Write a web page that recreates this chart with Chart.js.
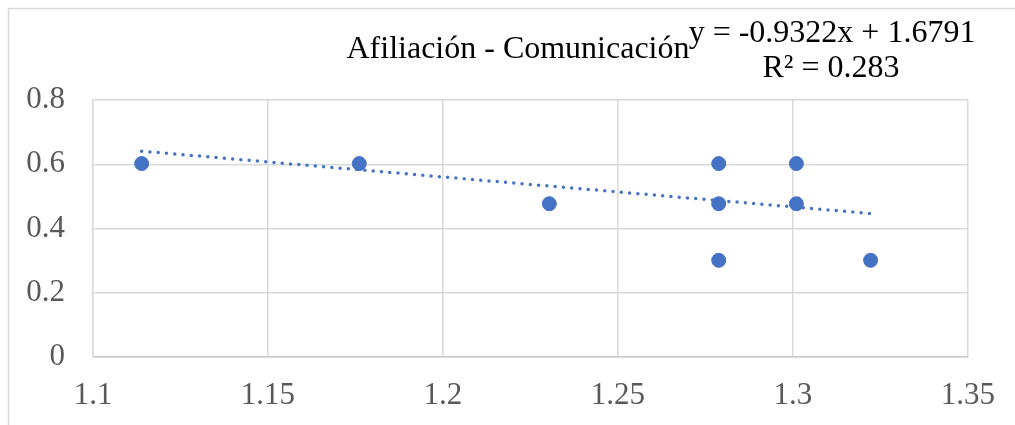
<!DOCTYPE html>
<html lang="es">
<head>
<meta charset="utf-8">
<title>Afiliación - Comunicación</title>
<script src="https://cdn.jsdelivr.net/npm/chart.js@4/dist/chart.umd.min.js"></script>
<style>
  html, body { margin: 0; padding: 0; background: #ffffff; }
  #wrap { width: 1015px; height: 425px; }
</style>
</head>
<body>
<div id="wrap"><canvas id="chart" width="1015" height="425"></canvas></div>
<script>
// Observed pairs (log scale values)
const xValues = [1.1139, 1.1761, 1.2304, 1.2788, 1.2788, 1.2788, 1.3010, 1.3010, 1.3222];
const yValues = [0.6021, 0.6021, 0.4771, 0.6021, 0.4771, 0.3010, 0.6021, 0.4771, 0.3010];

// Linear trend as stated on the chart
const trendSlope = -0.9322;
const trendIntercept = 1.6791;
const trendR2 = 0.283;

const xTickLabels = ['1.1', '1.15', '1.2', '1.25', '1.3', '1.35'];
const yTickLabels = ['0', '0.2', '0.4', '0.6', '0.8'];

const chartTitle = 'Afiliación - Comunicación';
const equationText = 'y = ' + trendSlope + 'x + ' + trendIntercept;
const r2Text = 'R² = ' + trendR2;

const points = xValues.map((x, i) => ({ x: x, y: yValues[i] }));
const xMin = Math.min(...xValues);
const xMax = Math.max(...xValues);
const trendPoints = [xMin, xMax].map(x => ({ x: x, y: trendSlope * x + trendIntercept }));

const SERIF = '"Liberation Serif", "Times New Roman", serif';
const BLUE = '#4472C4';
const GRID = '#d9d9d9';

// Frame, title and regression label
const decorations = {
  id: 'decorations',
  beforeDraw(chart) {
    const ctx = chart.ctx;
    ctx.save();
    ctx.fillStyle = '#ffffff';
    ctx.fillRect(0, 0, chart.width, chart.height);
    ctx.strokeStyle = GRID;
    ctx.lineWidth = 1.5;
    ctx.strokeRect(8.5, 8.5, chart.width + 20, chart.height + 20);
    ctx.restore();
  },
  afterDraw(chart) {
    const ctx = chart.ctx;
    ctx.save();
    ctx.fillStyle = '#000000';
    ctx.textAlign = 'center';
    ctx.textBaseline = 'alphabetic';
    ctx.font = '32px ' + SERIF;
    ctx.fillText(chartTitle, 518, 58);
    ctx.fillText(equationText, 832, 42);
    ctx.fillText(r2Text, 831, 77);
    ctx.restore();
  }
};

new Chart(document.getElementById('chart'), {
  type: 'scatter',
  data: {
    datasets: [
      {
        label: 'Tendencia',
        data: trendPoints,
        showLine: true,
        borderColor: BLUE,
        borderWidth: 3.5,
        borderDash: [0, 8.3],
        borderCapStyle: 'round',
        pointRadius: 0,
        pointHoverRadius: 0,
        fill: false,
        order: 0
      },
      {
        label: chartTitle,
        data: points,
        backgroundColor: BLUE,
        borderColor: BLUE,
        borderWidth: 1,
        pointRadius: 7,
        pointHoverRadius: 7,
        order: 1
      }
    ]
  },
  options: {
    responsive: false,
    animation: false,
    devicePixelRatio: 1,
    layout: { padding: { left: 8, top: 100, right: 47, bottom: 0 } },
    plugins: {
      legend: { display: false },
      title: { display: false },
      tooltip: { enabled: false }
    },
    scales: {
      x: {
        type: 'linear',
        min: 1.1,
        max: 1.35,
        afterFit(scale) { scale.height = 68; },
        afterBuildTicks(scale) {
          scale.ticks = xTickLabels.map(t => ({ value: parseFloat(t) }));
        },
        ticks: {
          padding: 20,
          color: '#595959',
          font: { family: SERIF, size: 31 },
          callback: (v, i) => xTickLabels[i]
        },
        grid: { color: GRID, lineWidth: 1.5, drawTicks: false },
        border: { color: '#c8c8c8', width: 1.5 }
      },
      y: {
        type: 'linear',
        min: 0,
        max: 0.8,
        afterFit(scale) { scale.width = 85; },
        afterBuildTicks(scale) {
          scale.ticks = yTickLabels.map(t => ({ value: parseFloat(t) }));
        },
        ticks: {
          padding: 28,
          color: '#595959',
          font: { family: SERIF, size: 31 },
          callback: (v, i) => yTickLabels[i]
        },
        grid: { color: GRID, lineWidth: 1.5, drawTicks: false },
        border: { color: GRID, width: 1.5 }
      }
    }
  },
  plugins: [decorations]
});
</script>
</body>
</html>
